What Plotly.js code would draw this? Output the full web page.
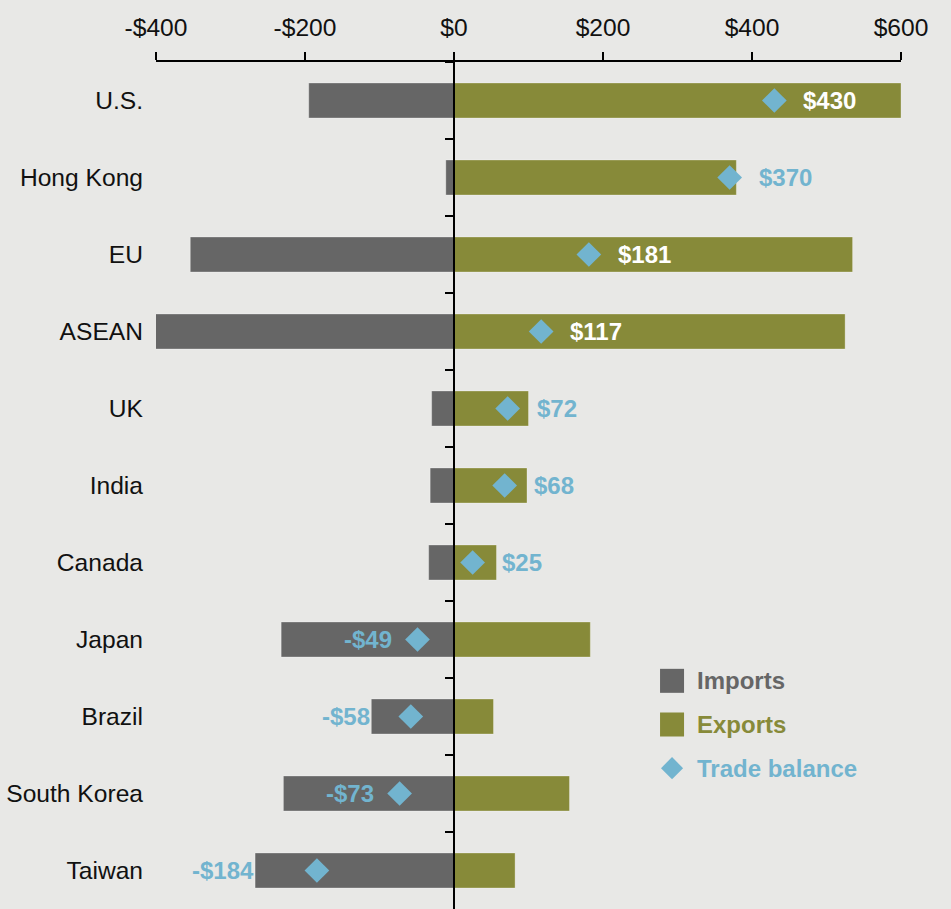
<!DOCTYPE html>
<html><head><meta charset="utf-8">
<script src="https://cdn.plot.ly/plotly-3.0.1.min.js"></script>
<style>html,body{margin:0;padding:0;background:#e8e8e6;}</style>
</head><body><div id="chart" style="width:951px;height:909px;"></div>
<script>
// ---- data ----
const categories = ['U.S.','Hong Kong','EU','ASEAN','UK','India','Canada','Japan','Brazil','South Korea','Taiwan'];
const imports = [-195, -11, -354, -404, -30, -32, -34, -232, -111, -229, -267];
const exports = [600, 379, 535, 525, 100, 98, 57, 183, 53, 155, 82];
const balance = [430, 370, 181, 117, 72, 68, 25, -49, -58, -73, -184];
const xTickValues = [-400, -200, 0, 200, 400, 600];
const legendNames = ['Imports', 'Exports', 'Trade balance'];

// ---- style ----
const W = 951, H = 909;
const M = {l: 156, r: 50, t: 62, b: 0};
const xRange = [-400, 600];
const C = {imports: '#666666', exports: '#878a39', balance: '#72b4cf', bg: '#e8e8e6', text: '#111111'};
const FONT = 'Liberation Sans, Arial, Helvetica, sans-serif';
const FS = 24, TICKFS = 24.6;
const pxPerUnit = (W - M.l - M.r) / (xRange[1] - xRange[0]);
const fmt = v => (v < 0 ? '-$' : '$') + Math.abs(v);
function textWidth(s, size) { let w = 0; for (const ch of s) w += (ch === '-' ? 0.333 : 0.556); return w * size; }

const GAP_POS = 27, GAP_NEG = 24;
const annotations = [];
balance.forEach((b, i) => {
  const t = fmt(b);
  const w = textWidth(t, FS) + 4;
  if (b >= 0) {
    const inside = (b * pxPerUnit + GAP_POS + w) < exports[i] * pxPerUnit - 4;
    annotations.push({x: b, y: categories[i], xref: 'x', yref: 'y', text: t, showarrow: false,
      xanchor: 'left', xshift: GAP_POS,
      font: {family: FONT, size: FS, weight: 'bold', color: inside ? '#ffffff' : C.balance}});
  } else {
    const fits = (b * pxPerUnit - GAP_NEG - w) > imports[i] * pxPerUnit + 4;
    annotations.push({x: fits ? b : imports[i], y: categories[i], xref: 'x', yref: 'y', text: t, showarrow: false,
      xanchor: 'right', xshift: fits ? -GAP_NEG : 1,
      font: {family: FONT, size: FS, weight: 'bold', color: C.balance}});
  }
});

const legendColors = [C.imports, C.exports, C.balance];
legendNames.forEach((n, i) => {
  annotations.push({x: 0, y: i, xref: 'x3', yref: 'y3', text: n, showarrow: false,
    xanchor: 'left', xshift: 23, font: {family: FONT, size: FS, weight: 'bold', color: legendColors[i]}});
});

const traces = [
  {type: 'bar', orientation: 'h', x: imports, y: categories, name: legendNames[0],
   marker: {color: C.imports, line: {color: 'rgba(255,255,255,0.3)', width: 1}}, showlegend: false, hoverinfo: 'skip'},
  {type: 'bar', orientation: 'h', x: exports, y: categories, name: legendNames[1],
   marker: {color: C.exports, line: {color: 'rgba(255,255,255,0.3)', width: 1}}, showlegend: false, hoverinfo: 'skip'},
  {type: 'scatter', mode: 'markers', x: balance, y: categories, name: legendNames[2],
   marker: {symbol: 'diamond', size: 19, color: C.balance, opacity: 1, line: {width: 0}}, showlegend: false, hoverinfo: 'skip'},
  // helper for the zero-line axis with category boundary ticks
  {type: 'scatter', mode: 'markers', x: balance, y: categories, yaxis: 'y2',
   marker: {opacity: 0, size: 1}, showlegend: false, hoverinfo: 'skip'},
  // custom legend symbols
  {type: 'scatter', mode: 'markers', x: legendNames.map(() => 0), y: legendNames.map((n, i) => i),
   xaxis: 'x3', yaxis: 'y3', cliponaxis: false,
   marker: {symbol: ['square', 'square', 'diamond'], size: [24, 24, 17], color: legendColors, opacity: 1, line: {width: 0}},
   showlegend: false, hoverinfo: 'skip'}
];

const plotH = H - M.t - M.b;
const legTop = (H - 659) / plotH, legBot = (H - 790) / plotH;

const layout = {
  width: W, height: H, margin: M,
  paper_bgcolor: C.bg, plot_bgcolor: C.bg,
  barmode: 'overlay', bargap: 0.545,
  hovermode: false, showlegend: false,
  font: {family: FONT, size: FS, color: C.text},
  xaxis: {range: xRange, side: 'top', tickmode: 'array', tickvals: xTickValues, ticktext: xTickValues.map(fmt),
    ticks: 'outside', ticklen: 8, tickwidth: 2, tickcolor: '#000', showline: true, linecolor: '#000', linewidth: 2,
    showgrid: false, zeroline: false, tickfont: {family: FONT, size: TICKFS, color: C.text}, ticklabelstandoff: 6, fixedrange: true},
  yaxis: {type: 'category', range: [categories.length - 0.5, -0.5], showline: false, ticks: '', showgrid: false,
    zeroline: false, tickfont: {family: FONT, size: TICKFS, color: C.text}, ticklabelstandoff: 12, fixedrange: true},
  yaxis2: {type: 'category', overlaying: 'y', anchor: 'free', side: 'left',
    position: (0 - xRange[0]) / (xRange[1] - xRange[0]),
    range: [categories.length - 0.5, -0.5], tickson: 'boundaries', ticks: 'outside', ticklen: 8, tickwidth: 2,
    tickcolor: '#000', showticklabels: false, showline: true, linecolor: '#000', linewidth: 2, showgrid: false, zeroline: false, fixedrange: true},
  xaxis3: {domain: [0.66, 0.96], range: [-1.1, 9], anchor: 'y3', visible: false, fixedrange: true},
  yaxis3: {domain: [legBot, legTop], range: [2.5, -0.5], anchor: 'x3', visible: false, fixedrange: true},
  annotations: annotations
};

Plotly.newPlot('chart', traces, layout, {displayModeBar: false, staticPlot: true});
</script></body></html>
